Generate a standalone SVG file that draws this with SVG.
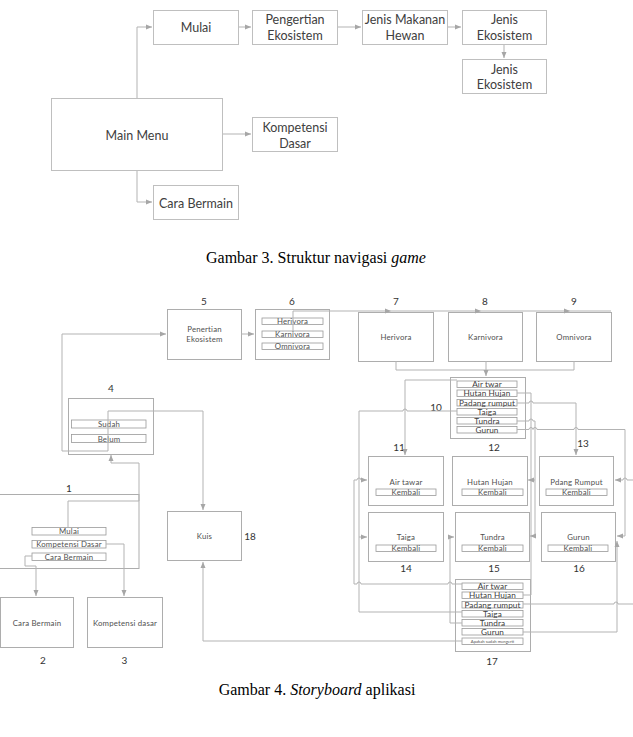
<svg xmlns="http://www.w3.org/2000/svg" width="633" height="737" viewBox="0 0 633 737">
<style>
.b{fill:#fff;stroke:#bfbfbf;stroke-width:1}
.s{fill:#fff;stroke:#adadad;stroke-width:1}
.btn{fill:#fff;stroke:#9a9a9a;stroke-width:0.8}
.c{fill:none;stroke:#b3b3b3;stroke-width:1}
.t{font-family:Lato,"Open Sans",sans-serif;font-size:12.5px;fill:#404040;text-anchor:middle}
.st{font-family:Lato,"Open Sans",sans-serif;font-size:7.8px;fill:#505050;text-anchor:middle;letter-spacing:0.2px}
.bt{font-family:Lato,"Open Sans",sans-serif;font-size:8.2px;fill:#404040;text-anchor:middle;letter-spacing:0.1px}
.n{font-family:Lato,"Open Sans",sans-serif;font-size:10px;fill:#333;text-anchor:middle}
.cap{font-family:"Liberation Serif","Times New Roman",serif;font-size:16px;fill:#000;text-anchor:middle}
</style>
<defs>
<marker id="a" markerUnits="userSpaceOnUse" markerWidth="6" markerHeight="6" refX="6" refY="3" orient="auto"><path d="M0,0.5 L6,3 L0,5.5 z" fill="#a6a6a6"/></marker>
</defs>

<!-- Gambar 3 -->
<g id="connectors-nav" class="c">
<path d="M137,98 V27 H152" marker-end="url(#a)"/>
<path d="M137,170 V202 H152" marker-end="url(#a)"/>
<path d="M222,134 H251" marker-end="url(#a)"/>
<path d="M238,27 H251" marker-end="url(#a)"/>
<path d="M337,27 H361" marker-end="url(#a)"/>
<path d="M447,27 H461" marker-end="url(#a)"/>
<path d="M504,44 V58" marker-end="url(#a)"/>
</g>
<g id="n-mulai"><rect class="b" x="153.5" y="10.5" width="85" height="34"/><text class="t" x="196" y="31.5">Mulai</text></g>
<g id="n-pengertian"><rect class="b" x="252.5" y="10.5" width="85" height="34"/><text class="t" x="295" y="23.5">Pengertian</text><text class="t" x="295" y="39.5">Ekosistem</text></g>
<g id="n-jenismakanan"><rect class="b" x="362.5" y="10.5" width="85" height="34"/><text class="t" x="405" y="23.5">Jenis Makanan</text><text class="t" x="405" y="39.5">Hewan</text></g>
<g id="n-jenisekosistem1"><rect class="b" x="462.5" y="10.5" width="84" height="34"/><text class="t" x="504.5" y="23.5">Jenis</text><text class="t" x="504.5" y="39.5">Ekosistem</text></g>
<g id="n-jenisekosistem2"><rect class="b" x="462.5" y="59.5" width="84" height="34"/><text class="t" x="504.5" y="73.5">Jenis</text><text class="t" x="504.5" y="88.5">Ekosistem</text></g>
<g id="n-mainmenu"><rect class="b" x="51.5" y="98.5" width="171" height="72"/><text class="t" x="137" y="139.5">Main Menu</text></g>
<g id="n-kompetensi"><rect class="b" x="252.5" y="117.5" width="85" height="34"/><text class="t" x="295" y="131.5">Kompetensi</text><text class="t" x="295" y="147.5">Dasar</text></g>
<g id="n-carabermain"><rect class="b" x="153.5" y="185.5" width="85" height="34"/><text class="t" x="196" y="207.5">Cara Bermain</text></g>
<text class="cap" x="316" y="263">Gambar 3. Struktur navigasi <tspan font-style="italic">game</tspan></text>

<!-- Gambar 4 nodes -->
<g id="s1"><rect class="s" x="-5" y="494.5" width="144" height="74"/>
<rect class="btn" x="32" y="527.5" width="74" height="7.5"/><text class="st" x="69" y="534">Mulai</text>
<rect class="btn" x="32" y="540.5" width="74" height="7.5"/><text class="st" x="69" y="547">Kompetensi Dasar</text>
<rect class="btn" x="32" y="553" width="74" height="7.5"/><text class="st" x="69" y="559.5">Cara Bermain</text>
<text class="n" x="69" y="491.5">1</text></g>
<g id="s2"><rect class="s" x="0.5" y="597.5" width="73" height="50"/><text class="st" x="37" y="625.5">Cara Bermain</text><text class="n" x="43" y="663.5">2</text></g>
<g id="s3"><rect class="s" x="87.5" y="597.5" width="75" height="50"/><text class="st" x="125" y="625.5">Kompetensi dasar</text><text class="n" x="124.5" y="663.5">3</text></g>
<g id="s4"><rect class="s" x="68.5" y="398.5" width="85" height="56"/>
<rect class="btn" x="71.5" y="420" width="74.5" height="8"/><text class="st" x="109" y="427">Sudah</text>
<rect class="btn" x="71.5" y="434.5" width="74.5" height="8"/><text class="st" x="109" y="441.5">Belum</text>
<text class="n" x="111" y="391.5">4</text></g>
<g id="s5"><rect class="s" x="167.5" y="309.5" width="74" height="50"/><text class="st" x="204.5" y="332">Penertian</text><text class="st" x="204.5" y="342">Ekosistem</text><text class="n" x="204" y="304.5">5</text></g>
<g id="s6"><rect class="s" x="255.5" y="309.5" width="74" height="50"/>
<rect class="btn" x="262" y="318" width="61" height="6.5"/><text class="st" x="292.5" y="324">Herivora</text>
<rect class="btn" x="262" y="331" width="61" height="6.5"/><text class="st" x="292.5" y="337">Karnivora</text>
<rect class="btn" x="262" y="343" width="61" height="6.5"/><text class="st" x="292.5" y="349">Omnivora</text>
<text class="n" x="292" y="304.5">6</text></g>
<g id="s7"><rect class="s" x="358.5" y="312.5" width="75" height="49"/><text class="st" x="396" y="340">Herivora</text><text class="n" x="396" y="304.5">7</text></g>
<g id="s8"><rect class="s" x="448.5" y="312.5" width="74" height="49"/><text class="st" x="485.5" y="340">Karnivora</text><text class="n" x="485" y="304.5">8</text></g>
<g id="s9"><rect class="s" x="536.5" y="312.5" width="75" height="49"/><text class="st" x="574" y="340">Omnivora</text><text class="n" x="574" y="304.5">9</text></g>
<g id="s10"><rect class="s" x="450.5" y="377.5" width="75" height="61"/>
<rect class="btn" x="457" y="381" width="60" height="6.5"/><text class="bt" x="487" y="387">Air twar</text>
<rect class="btn" x="457" y="390" width="60" height="6.5"/><text class="bt" x="487" y="396">Hutan Hujan</text>
<rect class="btn" x="457" y="399.5" width="60" height="6.5"/><text class="bt" x="487" y="405.5">Padang rumput</text>
<rect class="btn" x="457" y="408.5" width="60" height="6.5"/><text class="bt" x="487" y="414.5">Taiga</text>
<rect class="btn" x="457" y="417.5" width="60" height="6.5"/><text class="bt" x="487" y="423.5">Tundra</text>
<rect class="btn" x="457" y="426.5" width="60" height="6.5"/><text class="bt" x="487" y="432.5">Gurun</text>
<text class="n" x="436" y="410.5">10</text></g>
<g id="s11"><rect class="s" x="368.5" y="456.5" width="75" height="49"/><text class="st" x="406" y="485">Air tawar</text><rect class="btn" x="376" y="489" width="60" height="6.5"/><text class="st" x="406" y="495">Kembali</text><text class="n" x="399" y="451">11</text></g>
<g id="s12"><rect class="s" x="452.5" y="456.5" width="75" height="49"/><text class="st" x="490" y="485">Hutan Hujan</text><rect class="btn" x="462" y="489" width="61" height="6.5"/><text class="st" x="492.5" y="495">Kembali</text><text class="n" x="494" y="451">12</text></g>
<g id="s13"><rect class="s" x="539.5" y="456.5" width="74" height="49"/><text class="st" x="576.5" y="485">Pdang Rumput</text><rect class="btn" x="546" y="489" width="61" height="6.5"/><text class="st" x="576.5" y="495">Kembali</text><text class="n" x="583" y="447">13</text></g>
<g id="s14"><rect class="s" x="368.5" y="512.5" width="75" height="49"/><text class="st" x="406" y="540">Taiga</text><rect class="btn" x="376" y="545" width="60" height="6.5"/><text class="st" x="406" y="551">Kembali</text><text class="n" x="406" y="572">14</text></g>
<g id="s15"><rect class="s" x="455.5" y="512.5" width="74" height="49"/><text class="st" x="492.5" y="540">Tundra</text><rect class="btn" x="462" y="545" width="61" height="6.5"/><text class="st" x="492.5" y="551">Kembali</text><text class="n" x="494" y="572">15</text></g>
<g id="s16"><rect class="s" x="541.5" y="512.5" width="74" height="49"/><text class="st" x="578.5" y="540">Gurun</text><rect class="btn" x="548" y="545" width="60" height="6.5"/><text class="st" x="578" y="551">Kembali</text><text class="n" x="579" y="572">16</text></g>
<g id="s17"><rect class="s" x="455.5" y="579.5" width="75" height="72"/>
<rect class="btn" x="462" y="583" width="61" height="6.5"/><text class="bt" x="492.5" y="589">Air twar</text>
<rect class="btn" x="462" y="592" width="61" height="6.5"/><text class="bt" x="492.5" y="598">Hutan Hujan</text>
<rect class="btn" x="462" y="601.5" width="61" height="6.5"/><text class="bt" x="492.5" y="607.5">Padang rumput</text>
<rect class="btn" x="462" y="610.5" width="61" height="6.5"/><text class="bt" x="492.5" y="616.5">Taiga</text>
<rect class="btn" x="462" y="619.5" width="61" height="6.5"/><text class="bt" x="492.5" y="625.5">Tundra</text>
<rect class="btn" x="462" y="628.5" width="61" height="6.5"/><text class="bt" x="492.5" y="634.5">Gurun</text>
<rect class="btn" x="462" y="638" width="61" height="6.5"/><text class="st" x="492.5" y="643" style="font-size:4.2px;letter-spacing:0">Apakah sudah mengerti</text>
<text class="n" x="492" y="664.5">17</text></g>
<g id="s18"><rect class="s" x="167.5" y="511.5" width="74" height="49"/><text class="st" x="204.5" y="539">Kuis</text><text class="n" x="250" y="539.5">18</text></g>

<g id="connectors-storyboard" class="c">
<path d="M241,334 H254" marker-end="url(#a)"/>
<path d="M293,333 V311 H391" marker-end="url(#a)"/>
<path d="M391,311 H481" marker-end="url(#a)"/>
<path d="M481,311 H570" marker-end="url(#a)"/>
<path d="M570,311 H611"/>
<path d="M396,361 V370 H574 V361"/>
<path d="M486,361 V376" marker-end="url(#a)"/>
<path d="M457,380 H405 V455" marker-end="url(#a)"/>
<path d="M517,393 H531 V595 H523"/>
<path d="M535,480 H528" marker-end="url(#a)"/>
<path d="M517,403 H529 a2,2 0 0 1 4,0 H576 V455" marker-end="url(#a)"/>
<path d="M457,411 H407 a2,2 0 0 0 -4,0 H359 V612 H452 a2,2 0 0 1 -0,0 H462"/>
<path d="M359,537 H367" marker-end="url(#a)"/>
<path d="M517,421 H529 a2,2 0 0 1 4,0 H535 V536 H530" marker-end="url(#a)"/>
<path d="M517,429.5 H529 a2,2 0 0 1 4,0 a2,2 0 0 1 4,0 H574 a2,2 0 0 1 4,0 H625 V536 H617" marker-end="url(#a)"/>
<path d="M462,584 H452 a2,2 0 0 0 -4,0 H361 a2,2 0 0 0 -4,0 H354 V480 H357 a2,2 0 0 1 4,0 H367" marker-end="url(#a)"/>
<path d="M462,623 H450 V537 H454" marker-end="url(#a)"/>
<path d="M523,604 H614 a2,2 0 0 1 4,0 H640"/>
<path d="M640,480 H627 a2,2 0 0 0 -4,0 H615" marker-end="url(#a)"/>
<path d="M523,632 H617 V541" marker-end="url(#a)"/>
<path d="M462,641 H203 V562" marker-end="url(#a)"/>
<path d="M62,451 V334 H166" marker-end="url(#a)"/>
<path d="M62,451 H108 V411 H203 V510" marker-end="url(#a)"/>
<path d="M68,527 V501 H139 V463 H111 V455" marker-end="url(#a)"/>
<path d="M106,544 H124 V596" marker-end="url(#a)"/>
<path d="M32,556 H25 V566 H36 V596" marker-end="url(#a)"/>
</g>
<text class="cap" x="317" y="695">Gambar 4. <tspan font-style="italic">Storyboard</tspan><tspan dx="4">aplikasi</tspan></text>
</svg>
